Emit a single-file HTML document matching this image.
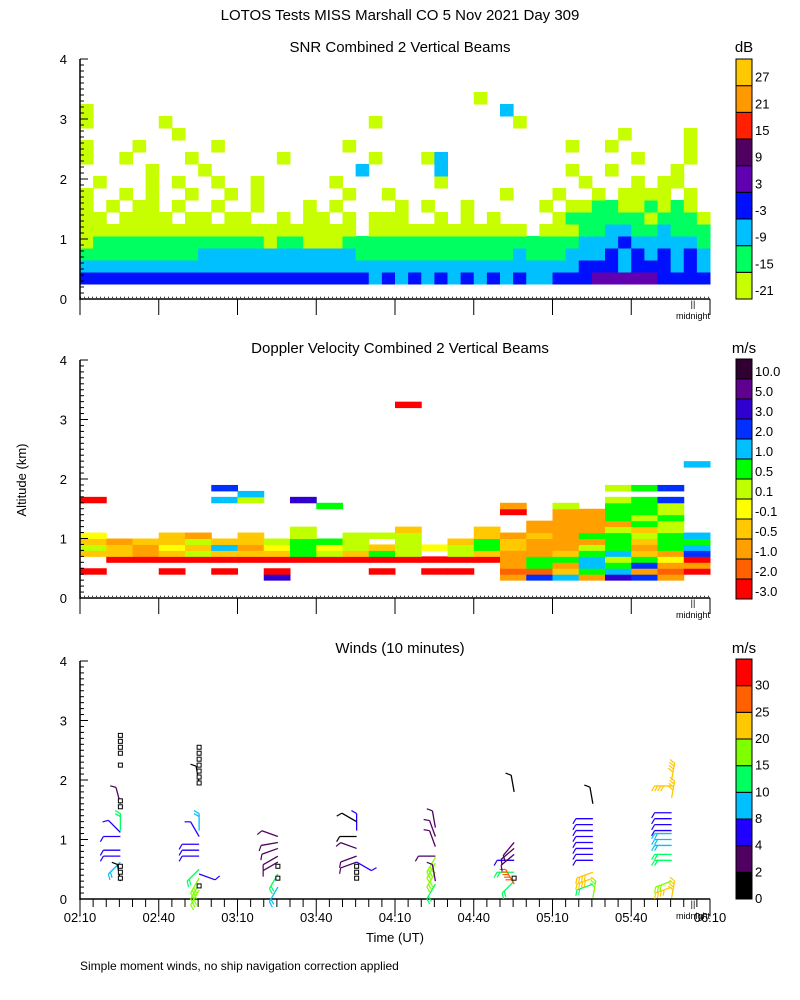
<!DOCTYPE html>
<html><head><meta charset="utf-8"><style>
body{margin:0;background:#fff;}
svg{display:block;font-family:"Liberation Sans",sans-serif;}
</style></head><body>
<svg id="c" width="800" height="1000" viewBox="0 0 800 1000" xmlns="http://www.w3.org/2000/svg">
<rect width="800" height="1000" fill="#fff"/>
<text x="400" y="20" font-size="15" text-anchor="middle">LOTOS Tests MISS Marshall CO   5 Nov 2021 Day 309</text>
<text x="400" y="52" font-size="15" text-anchor="middle">SNR Combined 2 Vertical Beams</text>
<text x="400" y="353" font-size="15" text-anchor="middle">Doppler Velocity Combined 2 Vertical Beams</text>
<text x="400" y="653" font-size="15" text-anchor="middle">Winds (10 minutes)</text>
<text x="744" y="52" font-size="15" text-anchor="middle">dB</text>
<text x="744" y="353" font-size="15" text-anchor="middle">m/s</text>
<text x="744" y="653" font-size="15" text-anchor="middle">m/s</text>
<text x="26" y="480" font-size="13" text-anchor="middle" transform="rotate(-90 26 480)">Altitude (km)</text>
<text x="395" y="942" font-size="13" text-anchor="middle">Time (UT)</text>
<text x="80" y="970" font-size="12">Simple moment winds, no ship navigation correction applied</text>
<g id="g"></g>
</svg>
<script>
// ---- data ----
const snrLevels=["-21","-15","-9","-3","3","9","15","21","27"];
const snrColors=["#c8ff00","#00ff60","#00c0ff","#0010ff","#6000b0","#500060","#ff2000","#ff9900","#ffc800"];
const dopLevels=["-3.0","-2.0","-1.0","-0.5","-0.1","0.1","0.5","1.0","2.0","3.0","5.0","10.0"];
const dopColors=["#ff0000","#ff6000","#ffa000","#ffc800","#ffff00","#c0ff00","#00ff00","#00c0ff","#0030ff","#3000d0","#600090","#300030"];
const windLevels=["0","2","4","8","10","15","20","25","30"];
const windColors=["#000000","#500060","#2000ff","#00c0ff","#00ff60","#80ff00","#ffc800","#ff6000","#ff0000"];
const xTickLabels=["02:10","02:40","03:10","03:40","04:10","04:40","05:10","05:40","06:10"];
// SNR grid: rows of 0.2 km starting at 0.25 km (bottom first), 48 columns of 5 min; char a.. = level index, '.'=none
const snrRows=[
"ddddddddddddddddddddddcdcdcdcdcdcdccdddeeeeedddd",
"ccccccccccccccccccccccccccccccccccccccdddcdddcdc",
"bbbbbbbbbccccccccccccbbbbbbbbbbbbcbbbcccdcdcdcdc",
"abbbbbbbbbbbbbabbaaabbbbbbbbbbbbbbbbbbcccdcccccb",
"aaaaaaaaaaaaaaaaaaaaa.aaaaaaaaaaaa.aaabbccbbcbbb",
"aa.aaaa.aa.aa..a.aa.a.aaa..a.a.a....abbbbbbabbba",
"a.a.aa.a..a..a...a.a....a.a..a.....a.aabbaababa.",
"a..a.a..a..a.a......a..a........a...a..a.aaaa.a.",
".a...a.a..a..a.....a.......a..........a...a.aa..",
".....a...a...........c.....c.........a..a....a..",
"a..a....a......a......a...ac..............a...a.",
"a...a.....a.........a................a..a.....a.",
".......a.................................a....a.",
"a.....a...............a..........a..............",
"a...............................c...............",
"..............................a................."];
// Doppler grid: rows of 0.1 km starting at 0.3 km, 24 cols; char a..l = dopLevels index
const dopRows=[
".......j........cihcjic.",
"a..a.a.a...a.aa.bbdghcba",
"................cgchgicc",
".aaaaaaaaaaaaaaacgghfgea",
"ddcdfdddgfdgf.fdccdghdci",
"fdcedhcegefdfefgdccfgcgh",
"dcddfddfggf.f.dgdcccgdgg",
"e..dc.d.f.fff..dcdcggfgh",
"........f...d..d.cccfdf.",
".................ccccgf.",
"..................ccgfg.",
"................a.ccggf.",
".........g......c.f.ggf.",
"a....hf.j...........fgi.",
"......h.................",
".....i..............fgi.",
"........................",
"........................",
"........................",
".......................h",
"........................",
"........................",
"........................",
"........................",
"........................",
"........................",
"........................",
"........................",
"........................",
"............a..........."];
// Winds: profile time (min after 02:10), height (km), speed (m/s), direction (screen angle deg, 0=right,90=up)
const windT=[15,15,15,15,15,15,15,15, 45,45,45,45,45,45,45,45,45,45,45, 75,75,75,75,75,75,75, 105,105,105,105,105,105,105, 135,135,135,135,135,135,135,135,135, 165,165,165,165,165,165,165,165, 195,195,195,195,195,195,195,195,195,195,195,195,195, 225,225,225,225,225,225,225,225,225,225,225,225,225,225,225];
const windH=[0.62,0.72,0.82,1.05,1.12,1.15,1.6,0.3, 0.15,0.25,0.35,0.42,0.5,0.72,0.82,0.92,1.05,1.15,1.95, 0.2,0.42,0.62,0.72,0.85,0.95,1.05, 0.62,0.72,0.85,1.05,1.15,1.3,0.62, 0.25,0.45,0.6,0.7,0.72,0.3,0.88,1.05,1.2, 0.3,0.45,0.25,0.65,0.75,0.85,0.95,1.8, 0.02,0.25,0.35,0.45,0.65,0.75,0.85,0.95,1.05,1.15,1.25,1.35,1.6, 0.02,0.2,0.3,0.65,0.75,0.9,1.0,1.1,1.15,1.25,1.35,1.45,1.7,1.9,2.0];
const windS=[8,5,5,5,5,12,2,1, 16,16,16,5,12,5,5,5,5,9,1, 8,10,2,2,2,2,2, 2,2,2,1,5,1,5, 12,15,15,15,2,2,3,3,2, 10,12,25,4,2,2,2,1, 15,10,20,20,4,4,4,4,4,4,4,4,1, 20,20,15,10,10,8,8,8,4,4,4,4,20,20,20];
const windA=[225,180,180,180,135,90,105,100, 240,240,240,-20,225,180,180,180,120,90,100, 240,240,210,210,200,190,160, 200,200,160,180,90,150,-30, 240,240,240,240,180,100,110,110,100, 225,180,120,180,220,220,230,100, 80,200,200,200,180,180,180,180,180,180,180,180,100, 80,200,200,180,180,180,180,180,180,180,180,180,80,180,80];
const calmT=[15,15,15,15,15,15,15,15,15,15, 45,45,45,45,45,45,45,45, 75,75, 105,105,105, 165];
const calmH=[0.35,0.45,0.55,1.55,1.65,2.25,2.45,2.55,2.65,2.75, 0.22,1.95,2.05,2.15,2.25,2.35,2.45,2.55, 0.35,0.55, 0.35,0.45,0.55, 0.35];

// ---- drawing ----
const NS="http://www.w3.org/2000/svg";
const G=document.getElementById('g');
function mk(t,a,parent){const e=document.createElementNS(NS,t);for(const k in a)e.setAttribute(k,a[k]);(parent||G).appendChild(e);return e;}
const X0=80,X1=710;
const xScale=m=>X0+(X1-X0)*m/240;
const panels=[{top:59,bot:299},{top:360,bot:598},{top:661,bot:899}];
const yScale=(p,h)=>panels[p].bot-(panels[p].bot-panels[p].top)*h/4;

function axes(p,name){
  const g=mk('g',{});
  
  
  const b=panels[p].bot;
  mk('line',{x1:X0,y1:panels[p].top,x2:X0,y2:b+1,stroke:'#000','stroke-width':1.5},g);
  mk('line',{x1:X0,y1:b,x2:X1,y2:b,stroke:'#000','stroke-width':1.5},g);
  for(let i=0;i<=40;i++){const y=yScale(p,i/10);const L=i%10==0?8:4;
    mk('line',{x1:X0,y1:y,x2:X0+L,y2:y,stroke:'#000'},g);}
  for(let k=0;k<=4;k++){const t=mk('text',{x:X0-13,y:yScale(p,k)+5,'font-size':13,'text-anchor':'end'},g);t.textContent=k;}
  for(let m=0;m<=240;m+=5){const x=xScale(m);const major=m%30==0;
    mk('line',{x1:x,y1:b,x2:x,y2:b+(major?16:(p==2?8:0)),stroke:'#000'},g);}
  mk('text',{x:693,y:b+8,'font-size':9,'text-anchor':'middle'},g).textContent='||';
  mk('text',{x:693,y:b+20,'font-size':9,'text-anchor':'middle'},g).textContent='midnight';
  if(p<2) mk('line',{x1:X0,y1:yScale(p,0.03),x2:X1,y2:yScale(p,0.03),stroke:'#000','stroke-dasharray':'1 3'},g);
}

function grid(p,rows,h0,dh,colors,name,ncols){
  const g=mk('g',{});
  
  
  const step=240/ncols;
  rows.forEach((row,r)=>{
    for(let c=0;c<ncols&&c<row.length;c++){
      const ch=row[c]; if(ch=='.')continue;
      const idx=ch.charCodeAt(0)-97; if(idx<0||idx>=colors.length)continue;
      const x=xScale(c*step), w=xScale((c+1)*step)-x;
      const y=yScale(p,h0+(r+1)*dh), hh=yScale(p,h0+r*dh)-y;
      const e=mk('rect',{x:x,y:y,width:w+0.5,height:hh+0.5,fill:colors[idx]},g);
      
    }
  });
}

function colorbar(top,bot,colors,labels,name){
  const g=mk('g',{});
  
  
  const n=colors.length,h=(bot-top)/n;
  colors.forEach((c,i)=>{
    const e=mk('rect',{x:736,y:bot-(i+1)*h,width:16,height:h,fill:c,stroke:'#000','stroke-width':1},g);
    
  });
  labels.forEach((l,i)=>{
    const t=mk('text',{x:755,y:bot-i*h-(name==='winds-colorbar'?0:h*0.15)+ (name==='winds-colorbar'?4:0),'font-size':13},g);
    t.textContent=l;
  });
}

function windColor(s){const th=[0,2,4,8,10,15,20,25,30];let i=0;for(let k=0;k<th.length;k++)if(s>=th[k])i=k;return windColors[i];}

grid(0,snrRows,0.25,0.2,snrColors,'snr-heatmap',48);
grid(1,dopRows,0.3,0.1,dopColors,'doppler-heatmap',24);
axes(0,'snr');axes(1,'doppler');axes(2,'winds');
colorbar(59,299,snrColors,snrLevels,'snr-colorbar');
colorbar(359,599,dopColors,dopLevels,'doppler-colorbar');
colorbar(659,899,windColors,windLevels,'winds-colorbar');
xTickLabels.forEach((l,i)=>{const t=mk('text',{x:xScale(i*30),y:922,'font-size':13,'text-anchor':'middle'});
  
  
  t.textContent=l;});

const wg=mk('g',{});


windT.forEach((t,i)=>{
  const x=xScale(t)+1,y=yScale(2,windH[i]),a=windA[i]*Math.PI/180,L=17;
  const ex=x+L*Math.cos(a),ey=y-L*Math.sin(a),col=windColor(windS[i]);
  const b=mk('g',{},wg);
  
  mk('line',{x1:x,y1:y,x2:ex,y2:ey,stroke:col,'stroke-width':1.3},b);
  const n=Math.max(1,Math.round(windS[i]/5));
  for(let k=0;k<n;k++){const bx=x+(L-k*3)*Math.cos(a),by=y-(L-k*3)*Math.sin(a),ba=a+Math.PI/3;
    mk('line',{x1:bx,y1:by,x2:bx+6*Math.cos(ba),y2:by-6*Math.sin(ba),stroke:col,'stroke-width':1.2},b);}
});
calmT.forEach((t,i)=>{
  const e=mk('rect',{x:xScale(t)-1,y:yScale(2,calmH[i])-2,width:4,height:4,fill:'#fff',stroke:'#000','stroke-width':1},wg);
  
});
</script>
</body></html>
